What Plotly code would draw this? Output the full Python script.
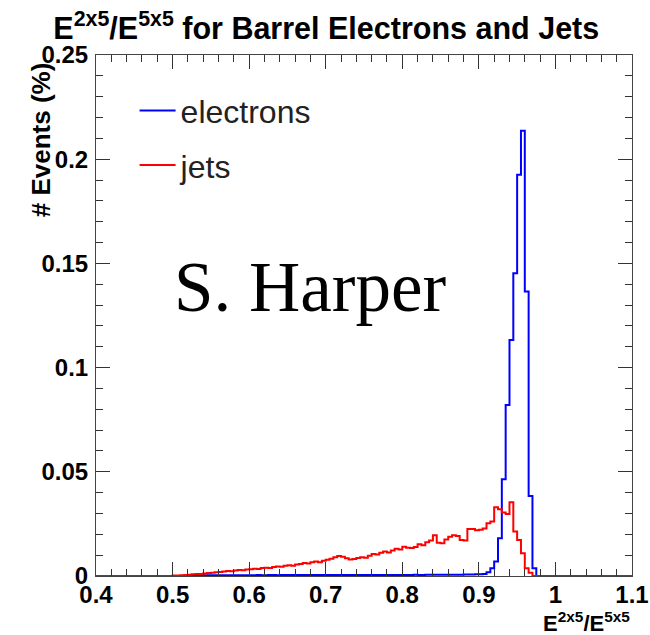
import plotly.graph_objects as go

# ---------------- data ----------------
bin_width = 0.005
x_min, x_max = 0.40, 1.10

# electrons: per-bin fractions (%), bins start at 0.520
electrons_start = 0.520
electrons = [
    0.0003, 0.0003, 0.0003, 0.0003, 0.0004, 0.0003, 0.0004, 0.0004, 0.0004, 0.0004,
    0.0004, 0.0004, 0.0004, 0.0004, 0.0004, 0.0004,
    0.0004, 0.0004, 0.0005, 0.0004, 0.0004, 0.0005, 0.0005, 0.0004, 0.0005, 0.0005,
    0.0005, 0.0005, 0.0005, 0.0005, 0.0005, 0.0005, 0.0005, 0.0005, 0.0005, 0.0005,
    0.0005, 0.0005, 0.0005, 0.0005, 0.0005, 0.0005, 0.0005, 0.0005, 0.0005, 0.0005,
    0.0005, 0.0005, 0.0005, 0.0005, 0.0005, 0.0005, 0.0005, 0.0005, 0.0005, 0.0005,
    0.0005, 0.0005, 0.0005, 0.0006, 0.0005, 0.0005, 0.0006, 0.0006, 0.0006, 0.0006,
    0.0006, 0.0006, 0.0006, 0.0006, 0.0006, 0.0006, 0.0007, 0.0007, 0.0007, 0.0008,
    0.0008,
    0.0010, 0.0018, 0.0037, 0.0069, 0.0181, 0.0464, 0.0820, 0.1133, 0.1453, 0.1925,
    0.2137, 0.1365, 0.0384, 0.0037,
]

# jets: per-bin fractions (%), bins start at 0.500
jets_start = 0.500
jets = [
    0.0002, 0.0002, 0.0003, 0.0005, 0.0006, 0.0008, 0.0010, 0.0009, 0.0012, 0.0014,
    0.0015, 0.0018, 0.0019, 0.0021, 0.0024, 0.0023, 0.0026, 0.0029, 0.0027, 0.0031,
    0.0032, 0.0035, 0.0033, 0.0038, 0.0040, 0.0038, 0.0043, 0.0046, 0.0044, 0.0049,
    0.0051, 0.0049, 0.0055, 0.0057, 0.0062, 0.0060, 0.0066, 0.0069, 0.0066, 0.0073,
    0.0078, 0.0083, 0.0090, 0.0096, 0.0092, 0.0085, 0.0079, 0.0082, 0.0086, 0.0090,
    0.0088, 0.0097, 0.0106, 0.0103, 0.0112, 0.0118, 0.0113, 0.0122, 0.0131, 0.0127,
    0.0140, 0.0136, 0.0134, 0.0139, 0.0152, 0.0148, 0.0162, 0.0170, 0.0196, 0.0160,
    0.0157, 0.0175, 0.0188, 0.0196, 0.0192, 0.0173, 0.0170, 0.0226, 0.0226, 0.0220,
    0.0222, 0.0228, 0.0253, 0.0262, 0.0330, 0.0320, 0.0305, 0.0298, 0.0354, 0.0213,
    0.0173, 0.0109, 0.0037, 0.0016,
]

x_tick_vals = [0.4, 0.5, 0.6, 0.7, 0.8, 0.9, 1.0, 1.1]
x_tick_text = ["0.4", "0.5", "0.6", "0.7", "0.8", "0.9", "1", "1.1"]
y_tick_vals = [0, 0.05, 0.10, 0.15, 0.20, 0.25]
y_tick_text = ["0", "0.05", "0.1", "0.15", "0.2", "0.25"]

series_names = ["electrons", "jets"]
series_colors = ["#0000ff", "#ff0000"]


def step_arrays(start, values):
    n_total = int(round((x_max - x_min) / bin_width))
    full = [0.0] * n_total
    off = int(round((start - x_min) / bin_width))
    for i, v in enumerate(values):
        full[off + i] = v
    xs = [x_min + i * bin_width for i in range(n_total)] + [x_max]
    ys = full + [full[-1]]
    return xs, ys


fig = go.Figure()
for name, start, vals, col in [
    (series_names[0], electrons_start, electrons, series_colors[0]),
    (series_names[1], jets_start, jets, series_colors[1]),
]:
    xs, ys = step_arrays(start, vals)
    fig.add_trace(go.Scatter(
        x=xs, y=ys, mode="lines", name=name, line=dict(color=col, width=2, shape="hv"),
        cliponaxis=False, legendgroup=name,
    ))

axis_font = dict(family="Liberation Sans", size=24, color="black", weight="bold")

fig.update_layout(
    template="none",
    width=650, height=635,
    margin=dict(l=96, r=18, t=55, b=59, autoexpand=False),
    paper_bgcolor="white", plot_bgcolor="white",
    showlegend=True,
    legend=dict(
        x=0.072, y=0.946, xanchor="left", yanchor="top",
        font=dict(family="Liberation Sans", size=32, color="#222"),
        bgcolor="rgba(0,0,0,0)", traceorder="grouped", tracegroupgap=10,
        itemwidth=36, borderwidth=0,
    ),
    title=dict(
        text="E<sup>2x5</sup>/E<sup>5x5</sup> for Barrel Electrons and Jets",
        x=0.502, xanchor="center", y=0.955, yanchor="middle", xref="container", yref="container",
        font=dict(family="Liberation Sans", size=30.5, color="black", weight="bold"),
    ),
    xaxis=dict(
        range=[x_min, x_max], tickmode="array", tickvals=x_tick_vals, ticktext=x_tick_text,
        ticks="inside", ticklen=14, tickwidth=1, tickcolor="#333",
        minor=dict(tick0=0.4, dtick=0.02, ticks="inside", ticklen=7, tickcolor="#333", tickwidth=1),
        showline=True, linecolor="#444", linewidth=1, mirror="ticks",
        showgrid=False, zeroline=False, tickfont=axis_font, ticklabelstandoff=-3,
        automargin=False,
    ),
    yaxis=dict(
        range=[0, 0.25], tickmode="array", tickvals=y_tick_vals, ticktext=y_tick_text,
        ticks="inside", ticklen=14, tickwidth=1, tickcolor="#333",
        minor=dict(tick0=0, dtick=0.01, ticks="inside", ticklen=7, tickcolor="#333", tickwidth=1),
        showline=True, linecolor="#444", linewidth=1, mirror="ticks",
        showgrid=False, zeroline=False, tickfont=axis_font, ticklabelstandoff=2,
        automargin=False,
    ),
    annotations=[
        dict(text="# Events (%)", xref="paper", yref="paper", x=-0.102, y=0.837,
             xanchor="center", yanchor="middle", textangle=-90, showarrow=False,
             font=dict(family="Liberation Sans", size=26, color="black", weight="bold")),
        dict(text="E<sup>2x5</sup>/E<sup>5x5</sup>", xref="paper", yref="paper", x=1.0, y=-0.089,
             xanchor="right", yanchor="middle", showarrow=False,
             font=dict(family="Liberation Sans", size=22, color="black", weight="bold")),
        dict(text="S. Harper", xref="paper", yref="paper", x=0.142, y=0.554,
             xanchor="left", yanchor="middle", showarrow=False,
             font=dict(family="Liberation Serif", size=71, color="black")),
    ],
)

fig.write_html("out.html")
